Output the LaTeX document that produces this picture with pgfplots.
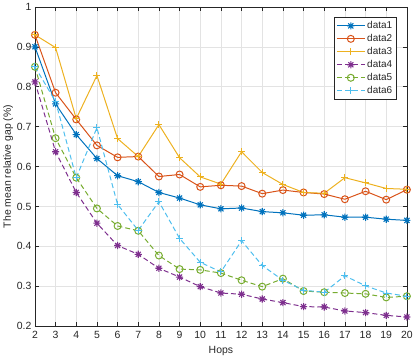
\documentclass[border=0pt]{standalone}
\usepackage{pgfplots}
\pgfplotsset{compat=1.18}
\usepackage{fontspec}
\setmainfont{Liberation Sans}
\definecolor{c1}{rgb}{0,0.447,0.741}
\definecolor{c2}{rgb}{0.85,0.325,0.098}
\definecolor{c3}{rgb}{0.929,0.694,0.125}
\definecolor{c4}{rgb}{0.494,0.184,0.556}
\definecolor{c5}{rgb}{0.466,0.674,0.188}
\definecolor{c6}{rgb}{0.301,0.745,0.933}
\definecolor{axgray}{rgb}{0.15,0.15,0.15}
\pgfdeclareplotmark{mstar}{%
  \pgfpathmoveto{\pgfqpoint{-\pgfplotmarksize}{0pt}}\pgfpathlineto{\pgfqpoint{\pgfplotmarksize}{0pt}}%
  \pgfpathmoveto{\pgfqpoint{0pt}{-\pgfplotmarksize}}\pgfpathlineto{\pgfqpoint{0pt}{\pgfplotmarksize}}%
  \pgfpathmoveto{\pgfqpoint{-0.707\pgfplotmarksize}{-0.707\pgfplotmarksize}}\pgfpathlineto{\pgfqpoint{0.707\pgfplotmarksize}{0.707\pgfplotmarksize}}%
  \pgfpathmoveto{\pgfqpoint{-0.707\pgfplotmarksize}{0.707\pgfplotmarksize}}\pgfpathlineto{\pgfqpoint{0.707\pgfplotmarksize}{-0.707\pgfplotmarksize}}%
  \pgfusepathqstroke}
\begin{document}
\begin{tikzpicture}
\begin{axis}[
  scale only axis,
  width=374pt, height=321pt,
  xmin=2, xmax=20, ymin=0.2, ymax=1,
  xtick={2,3,...,20},
  ytick={0.2,0.3,...,1.0},
  yticklabels={0.2,0.3,0.4,0.5,0.6,0.7,0.8,0.9,1},
  /pgf/number format/assume math mode=true,
  tick label style={font=\fontsize{10.5}{12}\selectfont, text=axgray},
  xticklabel style={yshift=-2pt},
  label style={font=\fontsize{10.5}{12}\selectfont, text=axgray},
  xlabel={Hops},
  ylabel={The mean relative gap (\%)},
  xlabel style={yshift=0pt},
  ylabel style={yshift=-3pt},
  axis line style={axgray, line width=0.6pt},
  tick style={axgray, line width=0.5pt},
  major tick length=4pt,
  tick align=inside,
  xtick pos=both, ytick pos=both,
  grid=major,
  major grid style={gray!22, line width=0.5pt},
  every axis plot/.append style={line width=1pt, mark size=3pt},
  legend style={at={(0.973,0.969)}, anchor=north east, draw=axgray, line width=0.5pt,
    font=\fontsize{10}{11.5}\selectfont, text=axgray, row sep=0.3pt, inner sep=2.5pt},
  legend cell align=left,
  legend image code/.code={\draw[mark repeat=2,mark phase=2] plot coordinates {(0pt,0pt) (14pt,0pt) (28pt,0pt)};},
]
\addplot[c1, mark=mstar, mark size=3.6pt, mark options={solid, line width=1.1pt}] coordinates {
(2,0.900)(3,0.757)(4,0.680)(5,0.620)(6,0.577)(7,0.562)(8,0.535)(9,0.521)(10,0.504)(11,0.494)(12,0.496)(13,0.487)(14,0.484)(15,0.478)(16,0.479)(17,0.473)(18,0.473)(19,0.468)(20,0.465)};
\addlegendentry{data1}
\addplot[c2, mark=o, mark size=3.5pt, mark options={solid}] coordinates {
(2,0.930)(3,0.785)(4,0.718)(5,0.653)(6,0.623)(7,0.625)(8,0.575)(9,0.580)(10,0.549)(11,0.553)(12,0.551)(13,0.532)(14,0.541)(15,0.535)(16,0.531)(17,0.518)(18,0.538)(19,0.517)(20,0.542)};
\addlegendentry{data2}
\addplot[c3, mark=+, mark size=3.5pt, mark options={solid}] coordinates {
(2,0.930)(3,0.898)(4,0.720)(5,0.828)(6,0.670)(7,0.625)(8,0.705)(9,0.622)(10,0.574)(11,0.556)(12,0.637)(13,0.585)(14,0.555)(15,0.535)(16,0.533)(17,0.572)(18,0.559)(19,0.545)(20,0.543)};
\addlegendentry{data3}
\addplot[c4, dash pattern=on 5pt off 3pt, mark=mstar, mark size=3.6pt, mark options={solid, line width=1.1pt}] coordinates {
(2,0.812)(3,0.637)(4,0.535)(5,0.458)(6,0.402)(7,0.380)(8,0.345)(9,0.323)(10,0.299)(11,0.283)(12,0.280)(13,0.268)(14,0.259)(15,0.249)(16,0.248)(17,0.238)(18,0.234)(19,0.227)(20,0.223)};
\addlegendentry{data4}
\addplot[c5, dash pattern=on 5pt off 3pt, mark=o, mark size=3.5pt, mark options={solid}] coordinates {
(2,0.850)(3,0.671)(4,0.572)(5,0.495)(6,0.451)(7,0.439)(8,0.377)(9,0.343)(10,0.341)(11,0.333)(12,0.315)(13,0.299)(14,0.319)(15,0.288)(16,0.285)(17,0.283)(18,0.281)(19,0.272)(20,0.275)};
\addlegendentry{data5}
\addplot[c6, dash pattern=on 5pt off 3pt, mark=+, mark size=3.5pt, mark options={solid}] coordinates {
(2,0.850)(3,0.763)(4,0.572)(5,0.697)(6,0.505)(7,0.440)(8,0.512)(9,0.420)(10,0.360)(11,0.336)(12,0.414)(13,0.352)(14,0.315)(15,0.290)(16,0.285)(17,0.326)(18,0.301)(19,0.283)(20,0.275)};
\addlegendentry{data6}
\end{axis}
\end{tikzpicture}
\end{document}
